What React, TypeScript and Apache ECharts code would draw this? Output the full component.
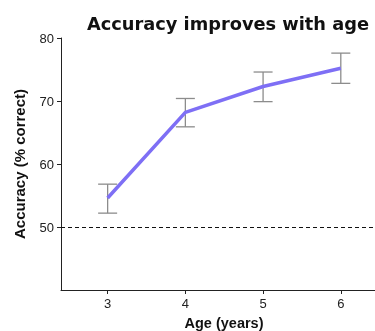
import React, { useEffect, useRef } from "react";
import * as echarts from "echarts";

const ages = [3, 4, 5, 6];
const accuracy = [54.6, 68.2, 72.3, 75.2];
const errLow = [52.2, 65.9, 69.9, 72.8];
const errHigh = [56.8, 70.4, 74.6, 77.6];
const yTicks = [50, 60, 70, 80];
const chance = 50;

export default function App() {
  const ref = useRef<HTMLDivElement>(null);
  useEffect(() => {
    const chart = echarts.init(ref.current!, null, { renderer: "svg" });
    const lineData = ages.map((a, i) => [a, accuracy[i]]);
    const errData = ages.map((a, i) => [a, errLow[i], errHigh[i]]);
    chart.setOption({
      animation: false,
      title: {
        text: "Accuracy improves with age",
        left: 223,
        top: 9,
        textAlign: "center",
        textStyle: { fontFamily: "DejaVu Sans", fontWeight: "bold", fontSize: 17.8, color: "#111" },
      },
      grid: { left: 61, top: 38, right: 0, bottom: 41, outerBoundsMode: "none", containLabel: false },
      xAxis: {
        type: "value",
        min: 2.4,
        max: 6.44,
        name: "Age (years)",
        nameLocation: "middle",
        nameGap: 25,
        nameTextStyle: { fontFamily: "Liberation Sans", fontWeight: "bold", fontSize: 14.5, color: "#111", padding: [0, 0, 0, 12] },
        axisLine: { lineStyle: { color: "#222", width: 1 } },
        axisTick: { customValues: ages, length: 4, lineStyle: { color: "#222" } },
        axisLabel: { customValues: ages, fontFamily: "Liberation Sans", fontSize: 13, color: "#222", margin: 7 },
        splitLine: { show: false },
      },
      yAxis: {
        type: "value",
        min: 40,
        max: 80,
        name: "Accuracy (% correct)",
        nameLocation: "middle",
        nameGap: 34,
        nameTextStyle: { fontFamily: "Liberation Sans", fontWeight: "bold", fontSize: 15, color: "#111" },
        axisLine: { show: true, lineStyle: { color: "#222", width: 1 } },
        axisTick: { show: true, customValues: yTicks, length: 4, lineStyle: { color: "#222" } },
        axisLabel: { customValues: yTicks, fontFamily: "Liberation Sans", fontSize: 13, color: "#222", margin: 7 },
        splitLine: { show: false },
      },
      series: [
        {
          type: "custom",
          data: errData,
          z: 1,
          renderItem: (params: any, api: any) => {
            const x = api.value(0);
            const lo = api.coord([x, api.value(1)]);
            const hi = api.coord([x, api.value(2)]);
            const hw = 9.5;
            const style = { stroke: "#8c8c8c", lineWidth: 1.3 };
            return {
              type: "group",
              children: [
                { type: "line", shape: { x1: lo[0], y1: lo[1], x2: hi[0], y2: hi[1] }, style },
                { type: "line", shape: { x1: lo[0] - hw, y1: lo[1], x2: lo[0] + hw, y2: lo[1] }, style },
                { type: "line", shape: { x1: hi[0] - hw, y1: hi[1], x2: hi[0] + hw, y2: hi[1] }, style },
              ],
            };
          },
        },
        {
          type: "line",
          data: lineData,
          z: 3,
          symbol: "none",
          lineStyle: { color: "#7e6ff5", width: 3.5 },
          markLine: {
            silent: true,
            symbol: "none",
            label: { show: false },
            lineStyle: { type: [4, 3], color: "#111", width: 1 },
            data: [{ yAxis: chance }],
          },
        },
      ],
    });
    return () => chart.dispose();
  }, []);
  return <div ref={ref} style={{ position: "fixed", left: 0, top: 0, width: 375, height: 331 }} />;
}
